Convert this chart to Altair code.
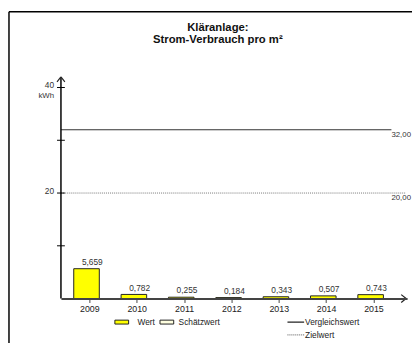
import altair as alt
import pandas as pd

# ---- data ----
years = [2009, 2010, 2011, 2012, 2013, 2014, 2015]
values = [5.659, 0.782, 0.255, 0.184, 0.343, 0.507, 0.743]
value_labels = ["5,659", "0,782", "0,255", "0,184", "0,343", "0,507", "0,743"]
vergleich_value = 32.0
vergleich_label = "32,00"
ziel_value = 20.0
ziel_label = "20,00"
y_ticks = [10, 20, 30, 40]
y_tick_labels = ["", "20", "", "40"]
title_lines = ["Kläranlage:", "Strom-Verbrauch pro m²"]
y_unit = "kWh"
legend_boxes = ["Wert", "Schätzwert"]
legend_box_fills = ["#FFFF00", "#FFFFE0"]
legend_lines = ["Vergleichswert", "Zielwert"]

FONT = "Liberation Sans"
W, H = 353, 226
xscale = alt.Scale(domain=[2008.4, 2015.71], nice=False, zero=False)
yscale = alt.Scale(domain=[0, 42], nice=False)

df = pd.DataFrame({"year": years, "value": values, "label": value_labels})
ref = pd.DataFrame({"value": [vergleich_value, ziel_value],
                    "label": [vergleich_label, ziel_label]})
ticks = pd.DataFrame({"v": y_ticks, "label": y_tick_labels})
one = pd.DataFrame({"a": [0]})

bars = alt.Chart(df).transform_calculate(
    x0="datum.year - 0.33", x1="datum.year + 0.21", base="0"
).mark_bar(fill="#FFFF00", stroke="#222", strokeWidth=1).encode(
    x=alt.X("x0:Q", scale=xscale,
            axis=alt.Axis(values=years, format="d", title=None, grid=False,
                          domainColor="#444", domainWidth=2, zindex=1,
                          tickColor="#444", tickSize=4, tickWidth=1,
                          labelFontSize=9, labelColor="#222", labelFont=FONT,
                          labelPadding=2)),
    x2="x1:Q",
    y=alt.Y("value:Q", scale=yscale, axis=None),
    y2="base:Q",
)

vlabels = alt.Chart(df).mark_text(fontSize=8.5, font=FONT, color="#333", dx=3, dy=-2,
                                  baseline="bottom").encode(
    x=alt.X("year:Q", scale=xscale), y=alt.Y("value:Q", scale=yscale), text="label:N")

verg_line = alt.Chart(ref.iloc[[0]]).mark_rule(color="#333", strokeWidth=1.2).encode(
    y=alt.Y("value:Q", scale=yscale), x=alt.value(0), x2=alt.value(337))
ziel_line = alt.Chart(ref.iloc[[1]]).mark_rule(color="#777", strokeWidth=1,
                                               strokeDash=[1, 1]).encode(
    y=alt.Y("value:Q", scale=yscale), x=alt.value(0), x2=alt.value(352))
ref_text = alt.Chart(ref).mark_text(fontSize=8, font=FONT, color="#333", align="left",
                                    baseline="middle", dy=5).encode(
    y=alt.Y("value:Q", scale=yscale), x=alt.value(337), text="label:N")

# y axis (manual: line, crossing ticks, labels, arrow)
y_line = alt.Chart(one).mark_rule(color="#000", strokeWidth=1.5).encode(
    x=alt.value(0), y=alt.value(1), y2=alt.value(H))
y_tick_marks = alt.Chart(ticks).mark_rule(color="#000", strokeWidth=1).encode(
    y=alt.Y("v:Q", scale=yscale), x=alt.value(-4), x2=alt.value(4))
y_tick_text = alt.Chart(ticks).mark_text(fontSize=8.5, font=FONT, color="#333",
                                         align="right", baseline="middle", dy=-2).encode(
    y=alt.Y("v:Q", scale=yscale), x=alt.value(-7), text="label:N")
y_unit_text = alt.Chart(one).mark_text(text=y_unit, fontSize=8, font=FONT, color="#333",
                                       align="right", baseline="middle").encode(
    x=alt.value(-7), y=alt.value(19))

# arrow heads as pairs of short rules
arrow_layers = []
for (xa, ya, xb, yb) in [(-4, 5, 0, 0), (4, 5, 0, 0),
                         (W - 6, H - 4, W - 1, H), (W - 6, H + 4, W - 1, H)]:
    arrow_layers.append(
        alt.Chart(one).mark_rule(color="#222", strokeWidth=1.2).encode(
            x=alt.value(xa), y=alt.value(ya), x2=alt.value(xb), y2=alt.value(yb)))

# title
title_layers = [
    alt.Chart(one).mark_text(text=t, fontSize=11.5, font=FONT, fontWeight="bold",
                             color="#111", align="center", baseline="middle").encode(
        x=alt.value(160), y=alt.value(yy))
    for t, yy in zip(title_lines, [-50, -38])
]

# frame
frame_top = alt.Chart(one).mark_rule(color="#000", strokeWidth=1.5).encode(
    y=alt.value(-66.5), x=alt.value(-53), x2=alt.value(W + 20))
frame_left = alt.Chart(one).mark_rule(color="#000", strokeWidth=1.5).encode(
    x=alt.value(-53), y=alt.value(-66.5), y2=alt.value(H + 60))

# legend
legend_layers = []
for name, fill, x0, tx in zip(legend_boxes, legend_box_fills, [55, 101], [78, 120]):
    legend_layers.append(
        alt.Chart(one).mark_rect(fill=fill, stroke="#222", strokeWidth=1).encode(
            x=alt.value(x0), x2=alt.value(x0 + 14),
            y=alt.value(H + 22), y2=alt.value(H + 26)))
    legend_layers.append(
        alt.Chart(one).mark_text(text=name, fontSize=8.5, font=FONT, color="#222",
                                 align="left", baseline="middle").encode(
            x=alt.value(tx), y=alt.value(H + 24)))
for name, yy, col, dash in zip(legend_lines, [H + 24, H + 37], ["#222", "#777"],
                               [[1, 0], [1, 1]]):
    legend_layers.append(
        alt.Chart(one).mark_rule(color=col, strokeWidth=1.2, strokeDash=dash).encode(
            x=alt.value(231), x2=alt.value(248), y=alt.value(yy)))
    legend_layers.append(
        alt.Chart(one).mark_text(text=name, fontSize=8.5, font=FONT, color="#222",
                                 align="left", baseline="middle").encode(
            x=alt.value(249), y=alt.value(yy)))

chart = alt.layer(
    bars, frame_top, frame_left, ziel_line, verg_line, ref_text, vlabels,
    y_line, y_tick_marks, y_tick_text, y_unit_text, *arrow_layers,
    *title_layers, *legend_layers,
).properties(
    width=W, height=H,
    autosize=alt.AutoSizeParams(type="none"),
    padding={"left": 54, "top": 67, "right": 5, "bottom": 42},
    background="white",
).configure_view(strokeWidth=0)

chart.save("out.html", embed_options={"renderer": "svg", "actions": False})
